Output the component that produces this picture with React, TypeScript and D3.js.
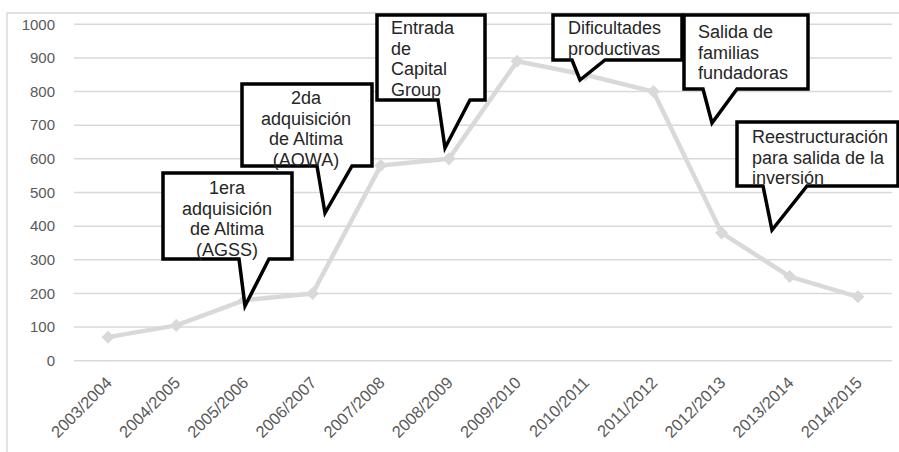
import React, { useEffect, useRef } from 'react';
import * as d3 from 'd3';

const categories = [
  '2003/2004', '2004/2005', '2005/2006', '2006/2007', '2007/2008', '2008/2009',
  '2009/2010', '2010/2011', '2011/2012', '2012/2013', '2013/2014', '2014/2015',
];
const values = [70, 105, 180, 200, 580, 600, 890, 850, 800, 380, 250, 190];
const yTicks = [0, 100, 200, 300, 400, 500, 600, 700, 800, 900, 1000];

// callout boxes: box edges, pointer base on the bottom edge, tip, text
const callouts = [
  { lines: ['1era', 'adquisición', 'de Altima', '(AGSS)'], align: 'middle',
    x0: 163, x1: 292, y0: 173, y1: 259, lb: 239, rb: 269, tip: [245, 306], tx: 227, ty: 194 },
  { lines: ['2da', 'adquisición', 'de Altima', '(AOWA)'], align: 'middle',
    x0: 242, x1: 372, y0: 84, y1: 166, lb: 317, rb: 352, tip: [325, 213], tx: 306, ty: 104 },
  { lines: ['Entrada', 'de', 'Capital', 'Group'], align: 'start',
    x0: 377, x1: 485, y0: 15, y1: 100, lb: 438, rb: 470, tip: [445, 148], tx: 391, ty: 34 },
  { lines: ['Dificultades', 'productivas'], align: 'start',
    x0: 553, x1: 682, y0: 15, y1: 60, lb: 572, rb: 605, tip: [580, 80], tx: 568, ty: 34 },
  { lines: ['Salida de', 'familias', 'fundadoras'], align: 'start',
    x0: 684, x1: 808, y0: 15, y1: 89, lb: 703, rb: 737, tip: [712, 123], tx: 698, ty: 38 },
  { lines: ['Reestructuración', 'para salida de la', 'inversión'], align: 'start',
    x0: 737, x1: 898, y0: 122, y1: 186, lb: 763, rb: 807, tip: [772, 230], tx: 752, ty: 143 },
];

export default function App() {
  const svgRef = useRef<SVGSVGElement>(null);

  useEffect(() => {
    if (!svgRef.current) return;
    const svg = d3.select(svgRef.current);
    svg.selectAll('*').remove();

    const width = 899;
    const height = 452;
    const plotLeft = 74;
    const plotRight = 892;
    const plotTop = 24.3;
    const plotBottom = 360.7;

    svg.attr('width', width).attr('height', height);

    svg.append('rect')
      .attr('x', 0).attr('y', 0).attr('width', width).attr('height', height)
      .attr('fill', '#fff');

    // outer chart border (cropped at right/bottom)
    svg.append('rect')
      .attr('x', 7).attr('y', 13).attr('width', width).attr('height', height)
      .attr('fill', 'none').attr('stroke', '#d9d9d9').attr('stroke-width', 1.5);

    const x = d3.scaleBand().domain(categories).range([plotLeft, plotRight]);
    const y = d3.scaleLinear().domain([0, 1000]).range([plotBottom, plotTop]);
    const cx = (c: string) => (x(c) || 0) + x.bandwidth() / 2;

    // gridlines
    svg.append('g')
      .selectAll('line')
      .data(yTicks)
      .enter()
      .append('line')
      .attr('x1', plotLeft)
      .attr('x2', plotRight)
      .attr('y1', (d) => y(d))
      .attr('y2', (d) => y(d))
      .attr('stroke', '#d9d9d9')
      .attr('stroke-width', 1.5);

    // y labels
    svg.append('g')
      .selectAll('text')
      .data(yTicks)
      .enter()
      .append('text')
      .attr('x', 55)
      .attr('y', (d) => y(d))
      .attr('dy', '0.35em')
      .attr('text-anchor', 'end')
      .style('font-family', '"Liberation Sans", Arial, sans-serif')
      .style('font-size', '15px')
      .style('fill', '#595959')
      .text((d) => String(d));

    // x labels
    svg.append('g')
      .selectAll('text')
      .data(categories)
      .enter()
      .append('text')
      .attr('text-anchor', 'end')
      .attr('transform', (d) => `translate(${cx(d) + 5},${plotBottom + 23}) rotate(-45)`)
      .style('font-family', '"Liberation Sans", Arial, sans-serif')
      .style('font-size', '16.5px')
      .style('fill', '#595959')
      .text((d) => d);

    // line
    const line = d3
      .line<number>()
      .x((_, i) => cx(categories[i]))
      .y((d) => y(d));

    svg.append('path')
      .datum(values)
      .attr('d', line)
      .attr('fill', 'none')
      .attr('stroke', '#d9d9d9')
      .attr('stroke-width', 4.5)
      .attr('stroke-linejoin', 'round');

    const marker = d3.symbol().type(d3.symbolSquare).size(85);
    svg.append('g')
      .selectAll('path')
      .data(values)
      .enter()
      .append('path')
      .attr('d', marker)
      .attr('transform', (d, i) => `translate(${cx(categories[i])},${y(d)}) rotate(45)`)
      .attr('fill', '#d9d9d9');

    // callouts
    callouts.forEach((c) => {
      const g = svg.append('g');
      const p = d3.path();
      p.moveTo(c.x0, c.y0);
      p.lineTo(c.x1, c.y0);
      p.lineTo(c.x1, c.y1);
      p.lineTo(c.rb, c.y1);
      p.lineTo(c.tip[0], c.tip[1]);
      p.lineTo(c.lb, c.y1);
      p.lineTo(c.x0, c.y1);
      p.closePath();
      g.append('path')
        .attr('d', p.toString())
        .attr('fill', '#fff')
        .attr('stroke', '#000')
        .attr('stroke-width', 3.5)
        .attr('stroke-linejoin', 'miter');
      g.selectAll('text')
        .data(c.lines)
        .enter()
        .append('text')
        .attr('x', c.tx)
        .attr('y', (_, i) => c.ty + i * 20.5)
        .attr('text-anchor', c.align)
        .style('font-family', '"Liberation Sans", Arial, sans-serif')
        .style('font-size', '18px')
        .style('fill', '#262626')
        .text((d) => d);
    });
  }, []);

  return (
    <div style={{ position: 'absolute', left: 0, top: 0 }}>
      <svg ref={svgRef} style={{ display: 'block' }}></svg>
    </div>
  );
}
